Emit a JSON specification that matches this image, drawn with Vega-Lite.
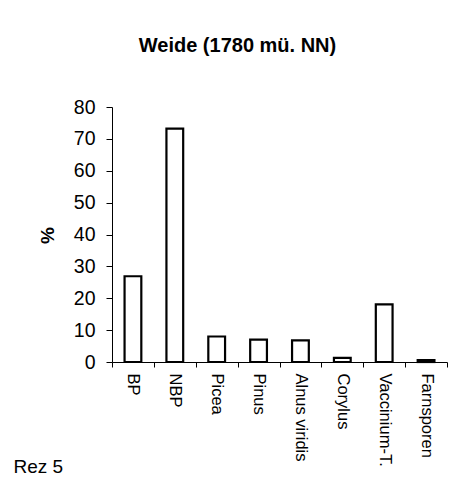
{
  "$schema": "https://vega.github.io/schema/vega-lite/v6.json",
  "autosize": "none",
  "width": 335,
  "height": 255,
  "padding": {"left": 112, "top": 107, "right": 16, "bottom": 126},
  "background": "white",
  "config": {
    "font": "Liberation Sans",
    "view": {"stroke": null}
  },
  "title": {
    "text": "Weide (1780 mü. NN)",
    "font": "Liberation Sans",
    "fontSize": 20,
    "fontWeight": "bold",
    "color": "black",
    "anchor": "middle",
    "frame": "group",
    "dx": -42,
    "offset": 41
  },
  "data": {
    "values": [
      {"taxon": "BP", "pct": 26.9},
      {"taxon": "NBP", "pct": 73.2},
      {"taxon": "Picea", "pct": 8.0},
      {"taxon": "Pinus", "pct": 7.0},
      {"taxon": "Alnus viridis", "pct": 6.8},
      {"taxon": "Corylus", "pct": 1.3},
      {"taxon": "Vaccinium-T.", "pct": 18.1},
      {"taxon": "Farnsporen", "pct": 0.6}
    ]
  },
  "mark": {"type": "bar", "fill": "white", "stroke": "black", "strokeWidth": 2.2, "width": {"band": 0.4}},
  "encoding": {
    "x": {
      "field": "taxon",
      "type": "nominal",
      "sort": null,
      "scale": {"paddingInner": 0, "paddingOuter": 0},
      "axis": {
        "title": "Rez 5",
        "titleFontSize": 19,
        "titleFontWeight": "normal",
        "titleColor": "black",
        "titleAlign": "left",
        "titleAnchor": "start",
        "titleBaseline": "alphabetic",
        "titleX": -99,
        "titleY": 110,
        "labelAngle": 90,
        "labelAlign": "left",
        "labelBaseline": "middle",
        "labelFontSize": 16.5,
        "labelColor": "black",
        "labelPadding": 6,
        "tickBand": "extent",
        "tickSize": 5,
        "tickColor": "black",
        "domainColor": "black",
        "labelLimit": 200
      }
    },
    "y": {
      "field": "pct",
      "type": "quantitative",
      "scale": {"domain": [0, 80], "nice": false},
      "axis": {
        "title": "%",
        "titleFontSize": 19,
        "titleFontWeight": "bold",
        "titleColor": "black",
        "titleAngle": -90,
        "titleAlign": "center",
        "titleBaseline": "middle",
        "titleX": -65,
        "titleY": 128,
        "values": [0, 10, 20, 30, 40, 50, 60, 70, 80],
        "grid": false,
        "labelFontSize": 19.5,
        "labelColor": "black",
        "labelPadding": 11,
        "tickSize": 6,
        "tickColor": "black",
        "domainColor": "black"
      }
    }
  }
}
